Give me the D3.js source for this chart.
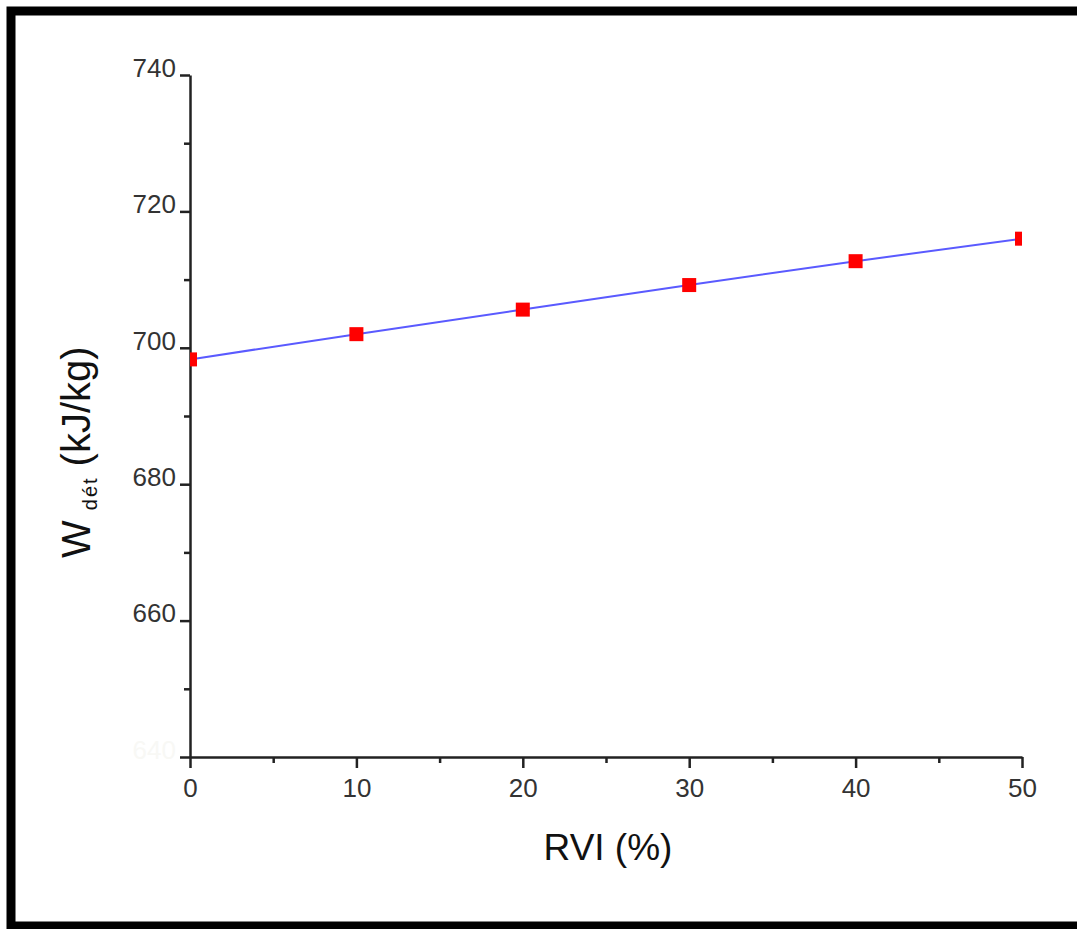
<!DOCTYPE html>
<html>
<head>
<meta charset="utf-8">
<script src="https://cdn.jsdelivr.net/npm/d3@7"></script>
<style>
  body { margin:0; background:#fff; }
  svg { display:block; }
  .tick text { font-family:"Liberation Sans", Arial, sans-serif; font-size:26px; fill:#333; }
  .domain { stroke:#222; stroke-width:2.5; }
  .tick line { stroke:#222; stroke-width:2.5; }
</style>
</head>
<body>
<svg id="chart"></svg>
<script>
// chart values
var rvi = [0, 10, 20, 30, 40, 50]
var wdet = [698.3, 702.0, 705.6, 709.2, 712.7, 716.0]
var xTicks = [0, 10, 20, 30, 40, 50]
var yTicks = [640, 660, 680, 700, 720, 740]

var screen = {width:1077, height:929}
var margins = {left:190, right:55, top:75, bottom:172}
var graph = {
    width: screen.width - margins.left - margins.right,
    height: screen.height - margins.top - margins.bottom
}

var svg = d3.select("#chart")
    .attr("width", screen.width)
    .attr("height", screen.height)

//frame round the picture (right side is cut off)
svg.append("rect")
   .attr("x", 11).attr("y", 11)
   .attr("width", screen.width + 20)
   .attr("height", 915)
   .attr("fill", "none")
   .attr("stroke", "#000")
   .attr("stroke-width", 9)

var xScale = d3.scaleLinear().domain([0, 50]).range([0, graph.width])
var yScale = d3.scaleLinear().domain([640, 740]).range([graph.height, 0])

var target = svg.append("g")
    .attr("transform", "translate(" + margins.left + "," + margins.top + ")")

target.append("clipPath").attr("id", "plotclip")
   .append("rect")
   .attr("width", graph.width).attr("height", graph.height)

//minor ticks
target.append("g")
   .attr("transform", "translate(0," + graph.height + ")")
   .call(d3.axisBottom(xScale).tickValues(d3.range(5, 50, 10)).tickSize(6).tickFormat(""))
   .select(".domain").remove()
target.append("g")
   .call(d3.axisLeft(yScale).tickValues(d3.range(650, 740, 20)).tickSize(6).tickFormat(""))
   .select(".domain").remove()

//major axes
var xAxis = target.append("g")
   .attr("transform", "translate(0," + graph.height + ")")
   .call(d3.axisBottom(xScale).tickValues(xTicks).tickSize(11).tickSizeOuter(0).tickPadding(4))
xAxis.selectAll(".tick text").attr("dy", "0.95em")

var yAxis = target.append("g")
   .call(d3.axisLeft(yScale).tickValues(yTicks).tickSize(10).tickSizeOuter(0))
yAxis.selectAll(".tick text")
   .attr("x", -14)
   .attr("dy", "0.05em")
   .style("fill", function(d) { return d == 640 ? "#f8f8f5" : "#333" })

//data line
var line = d3.line()
    .x(function(d, i) { return xScale(rvi[i]) })
    .y(function(d) { return yScale(d) })

var plot = target.append("g").attr("clip-path", "url(#plotclip)")

plot.append("path")
    .datum(wdet)
    .attr("d", line)
    .attr("fill", "none")
    .attr("stroke", "#5a5aff")
    .attr("stroke-width", 2)

var msize = 14
plot.selectAll("rect.pt")
    .data(wdet)
    .enter()
    .append("rect")
    .classed("pt", true)
    .attr("x", function(d, i) { return xScale(rvi[i]) - msize / 2 })
    .attr("y", function(d) { return yScale(d) - msize / 2 })
    .attr("width", msize)
    .attr("height", msize)
    .attr("fill", "#ff0000")

//axis titles
svg.append("text")
   .text("RVI (%)")
   .attr("x", 608).attr("y", 860)
   .attr("text-anchor", "middle")
   .style("font-family", "'Liberation Sans', Arial, sans-serif")
   .style("font-size", "37px")
   .style("fill", "#111")

var ylab = svg.append("g")
   .attr("transform", "translate(90,558) rotate(-90)")
   .append("text")
   .style("font-family", "'Liberation Sans', Arial, sans-serif")
   .style("font-size", "40px")
   .style("fill", "#111")
ylab.append("tspan").text("W")
ylab.append("tspan").text("dét")
   .attr("dx", 10).attr("dy", 7)
   .style("font-size", "20px")
   .style("letter-spacing", "2px")
ylab.append("tspan").text("(kJ/kg)")
   .attr("dx", 10).attr("dy", -7)
</script>
</body>
</html>
